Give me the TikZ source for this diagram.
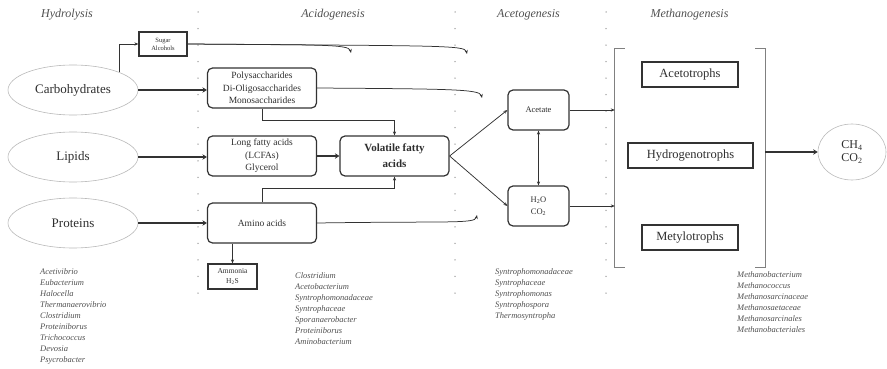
\documentclass[tikz,border=0pt]{standalone}
\usepackage{fontspec}
\setmainfont{Liberation Serif}
\usetikzlibrary{shapes.geometric,arrows.meta}
\definecolor{txt}{HTML}{2E2E2E}
\definecolor{lst}{HTML}{505050}
\definecolor{ln}{HTML}{333333}
\begin{document}
\begin{tikzpicture}[x=1pt,y=-1pt,
 ell/.style={ellipse,draw=gray!55,line width=0.6pt,minimum width=130pt,minimum height=50pt,font=\fontsize{13}{15}\selectfont,text=txt,inner sep=0},
 rbox/.style={draw=ln,rounded corners=5pt,line width=1.2pt,minimum width=109pt,minimum height=40pt,align=center,font=\fontsize{9.5}{12.5}\selectfont,text=txt,inner sep=0},
 sbox/.style={draw=ln,line width=1.2pt,align=center,inner sep=0,text=txt},
 mbox/.style={draw=ln,line width=1.2pt,minimum height=25pt,font=\fontsize{12.5}{14}\selectfont,text=txt,inner sep=0},
 ttl/.style={font=\fontsize{12}{14}\selectfont\itshape,text=lst},
 blist/.style={font=\fontsize{8.5}{11}\selectfont\itshape,text=lst,align=left,anchor=north west,inner sep=0},
 conn/.style={draw=ln,line width=0.75pt,-{Stealth[length=4pt,width=3.2pt]}},
 fat/.style={draw=ln,line width=2.4pt,-{Stealth[length=4.5pt,width=5.5pt]}},
 dot/.style={fill=gray!80,draw=none}
]
\useasboundingbox (0,0) rectangle (887,369);
% dotted separators
\foreach \x in {198,455,606}{
  \foreach \i in {0,...,17}{
    \fill[dot] (\x,12+16.53*\i) circle (0.75pt);
  }
}
% titles
\node[ttl] (t1) at (67,15) {Hydrolysis};
\node[ttl] (t2) at (333,15) {Acidogenesis};
\node[ttl] (t3) at (528.5,15) {Acetogenesis};
\node[ttl] (t4) at (689.5,15) {Methanogenesis};
% substrates
\node[ell] (carb) at (73,90) {Carbohydrates};
\node[ell] (lip) at (73,157) {Lipids};
\node[ell] (prot) at (73,223) {Proteins};
% acidogenesis boxes
\node[sbox,minimum width=48pt,minimum height=24pt,font=\fontsize{6.5}{8}\selectfont] (sa) at (163,44) {Sugar\\Alcohols};
\node[rbox] (poly) at (262,88) {Polysaccharides\\Di-Oligosaccharides\\Monosaccharides};
\node[rbox] (lcfa) at (262,156) {Long fatty acids\\(LCFAs)\\Glycerol};
\node[rbox,font=\fontsize{11}{16}\selectfont\bfseries] (vfa) at (394.5,156) {Volatile fatty\\acids};
\node[rbox] (amino) at (262,223) {Amino acids};
\node[sbox,minimum width=49pt,minimum height=25pt,font=\fontsize{7.5}{10}\selectfont] (amm) at (232.5,276.5) {Ammonia\\H\textsubscript{2}S};
% acetogenesis
\node[rbox,minimum width=61pt,font=\fontsize{8.5}{12}\selectfont] (ace) at (538.5,110) {Acetate};
\node[rbox,minimum width=61pt,font=\fontsize{8.5}{12}\selectfont] (hco) at (538.5,206) {H\textsubscript{2}O\\CO\textsubscript{2}};
% methanogenesis
\node[mbox,minimum width=96pt] (acet) at (690,74.5) {Acetotrophs};
\node[mbox,minimum width=125pt] (hyd) at (690.5,155.5) {Hydrogenotrophs};
\node[mbox,minimum width=96pt] (mety) at (690,237.5) {Metylotrophs};
\node[minimum width=150pt,minimum height=218pt,inner sep=0] (br) at (690,158) {};
\draw[draw=gray,line width=1pt] ([xshift=10pt]br.north west) -- (br.north west) -- (br.south west) -- ([xshift=10pt]br.south west);
\draw[draw=gray,line width=1pt] ([xshift=-10pt]br.north east) -- (br.north east) -- (br.south east) -- ([xshift=-10pt]br.south east);
\node[ell,minimum width=68pt,minimum height=56pt,font=\fontsize{12}{13}\selectfont,align=center] (ch4) at (852,152) {CH\textsubscript{4}\\CO\textsubscript{2}};
% free ends
\coordinate (e1) at (351,53);
\coordinate (e2) at (467,54);
\coordinate (e3) at (482,98);
\coordinate (e4) at (477,215);
% connectors
\draw[conn] (carb.north east) |- (sa.west);
\draw[fat] (carb.east) -- (carb.east -| poly.west);
\draw[fat] (lip.east) -- (lip.east -| lcfa.west);
\draw[fat] (prot.east) -- (prot.east -| amino.west);
\draw[fat] (lcfa) -- (vfa);
\draw[conn] (poly.south) -- ++(0,12) -| (vfa.north);
\draw[conn] (amino.north) -- ++(0,-14) -| (vfa.south);
\draw[conn] (amm.north |- amino.south) -- (amm.north);
\draw[conn] (sa.east) .. controls +(130,1) and +(-2,-9) .. (e1);
\draw[conn] (sa.east) .. controls +(250,2) and +(-2,-9) .. (e2);
\draw[conn] (poly.east) .. controls +(130,1) and +(-2,-9) .. (e3);
\draw[conn] (amino.east) .. controls +(130,-2) and +(-2,9) .. (e4);
\draw[conn] (vfa.east) -- (ace.west);
\draw[conn] (vfa.east) -- (hco.west);
\draw[conn,{Stealth[length=4pt,width=3.2pt]}-{Stealth[length=4pt,width=3.2pt]}] (ace) -- (hco);
\draw[conn] (ace.east) -- (ace.east -| br.west);
\draw[conn] (hco.east) -- (hco.east -| br.west);
\draw[fat] (br.east |- ch4) -- (ch4.west);
% organism lists
\node[blist] (l1) at (40,268) {Acetivibrio\\Eubacterium\\Halocella\\Thermanaerovibrio\\Clostridium\\Proteiniborus\\Trichococcus\\Devosia\\Psycrobacter};
\node[blist] (l2) at (295,272) {Clostridium\\Acetobacterium\\Syntrophomonadaceae\\Syntrophaceae\\Sporanaerobacter\\Proteiniborus\\Aminobacterium};
\node[blist] (l3) at (495,268) {Syntrophomonadaceae\\Syntrophaceae\\Syntrophomonas\\Syntrophospora\\Thermosyntropha};
\node[blist] (l4) at (737,271) {Methanobacterium\\Methanococcus\\Methanosarcinaceae\\Methanosaetaceae\\Methanosarcinales\\Methanobacteriales};
\end{tikzpicture}
\end{document}
